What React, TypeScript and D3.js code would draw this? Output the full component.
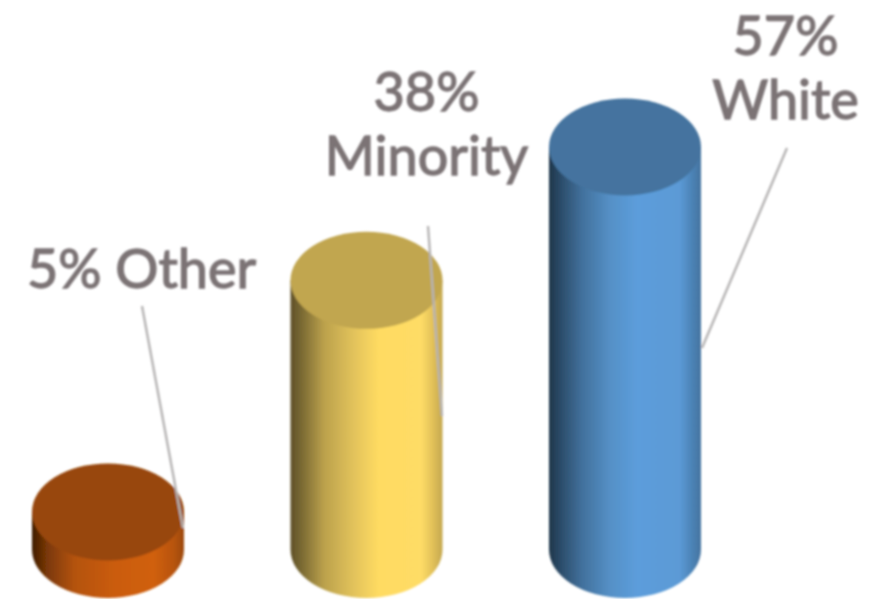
import React from "react";
import * as d3 from "d3";

const categories = ["Other", "Minority", "White"];
const values = [5, 38, 57];
const topColors = ["#984709", "#c1a64f", "#44739f"];
const gradientStops: [number, string][][] = [
  [[0, "#3f1c02"], [0.1, "#7a3807"], [0.28, "#b4530f"], [0.55, "#cb5c0f"], [0.8, "#d0600f"], [0.93, "#b8540d"], [1, "#9c4a0b"]],
  [[0, "#5f5028"], [0.08, "#7d6c34"], [0.22, "#bba14c"], [0.4, "#dfc05a"], [0.58, "#ffdb62"], [0.86, "#fedc66"], [0.94, "#e0bf58"], [1, "#c3a74f"]],
  [[0, "#1f3549"], [0.08, "#2c4d6b"], [0.22, "#42719d"], [0.4, "#5590c6"], [0.58, "#5c9ddb"], [0.86, "#5b9ad6"], [0.94, "#4c83b6"], [1, "#44739f"]],
];
const labelLines = [["5% Other"], ["38%", "Minority"], ["57%", "White"]];
const labelCenters = [141.5, 426.5, 785.5];
const labelFirstBaselines = [288, 111, 55];
const leaderLines = [
  [[142, 306], [183, 528]],
  [[428, 226], [442, 416]],
  [[787, 148], [702, 348]],
];

const W = 870;
const H = 599;
const RX = 76;
const RY = 48.5;
const BASE = 549.5;

export default function App() {
  const x = d3.scalePoint<string>().domain(categories).range([108, 625]);
  const y = d3.scaleLinear().domain([0, 57]).range([547, 147]);
  return (
    <svg width={W} height={H} viewBox={`0 0 ${W} ${H}`} style={{ position: "absolute", left: 0, top: 0, background: "#fff" }}>
      <defs>
        {categories.map((c, i) => (
          <linearGradient key={c} id={`g${i}`} x1="0" x2="1" y1="0" y2="0">
            {gradientStops[i].map(([o, col]) => (
              <stop key={o} offset={o} stopColor={col} />
            ))}
          </linearGradient>
        ))}
        <filter id="soft" x="-5%" y="-5%" width="110%" height="110%">
          <feGaussianBlur stdDeviation="0.9" />
        </filter>
      </defs>
      <g filter="url(#soft)">
        {categories.map((c, i) => {
          const X = x(c) as number;
          const top = y(values[i]);
          const d = `M${X - RX},${top} L${X - RX},${BASE} A${RX},${RY} 0 0 0 ${X + RX},${BASE} L${X + RX},${top} Z`;
          return (
            <g key={c}>
              <path d={d} fill={`url(#g${i})`} />
              <ellipse cx={X} cy={top} rx={RX} ry={RY} fill={topColors[i]} />
            </g>
          );
        })}
        {leaderLines.map((l, i) => (
          <line key={i} x1={l[0][0]} y1={l[0][1]} x2={l[1][0]} y2={l[1][1]} stroke="#b5b3b3" strokeWidth={2.4} />
        ))}
        {labelLines.map((lines, i) => (
          <text key={i} textAnchor="middle" fontFamily="Lato, sans-serif" fontSize={54} fill="#7b7375" stroke="#7b7375" strokeWidth={1.3}>
            {lines.map((t, j) => (
              <tspan key={t} x={labelCenters[i]} y={labelFirstBaselines[i] + j * 64}>
                {t}
              </tspan>
            ))}
          </text>
        ))}
      </g>
    </svg>
  );
}
